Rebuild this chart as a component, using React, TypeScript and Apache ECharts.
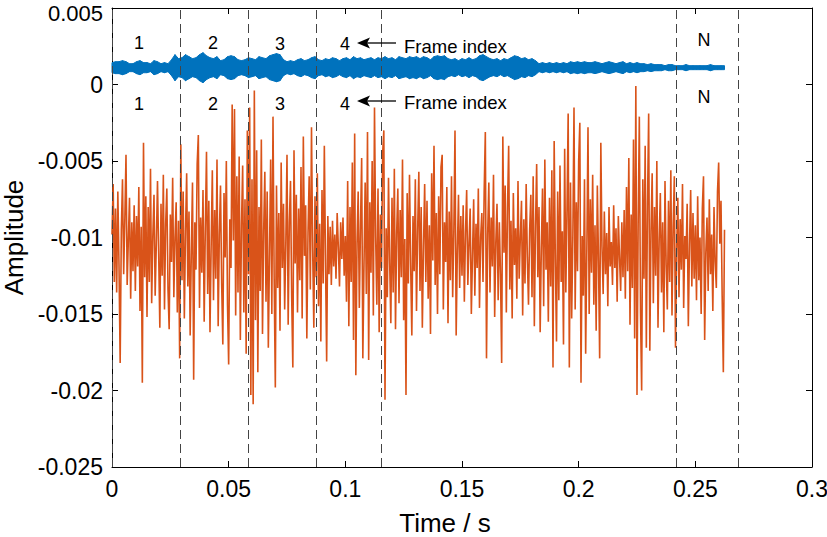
import React, { useEffect, useRef } from "react";
import * as echarts from "echarts";

// ---- data ----
// frame-by-frame speech signal, amplitude in units of 1e-3, sampled every ORANGE_DT seconds
const ORANGE_DT = 0.0005;
const orangeMilli: number[] = [
  -9.8, -6.5, -12.9, -8.1, -13.6, -7.0, -11.8, -18.2, -9.5, -6.2, -12.4, -8.8, -4.6, -13.1, -10.2, -7.4, -14.0, -9.0, -12.2, -7.9,
  -13.5, -8.6, -11.9, -6.7, -14.8, -9.3, -19.5, -3.8, -12.6, -7.3, -15.2, -8.0, -12.9, -5.5, -14.3, -9.9, -7.2, -13.8, -10.4, -6.3,
  -11.0, -15.9, -7.8, -12.5, -5.9, -14.7, -9.1, -6.8, -13.4, -16.0, -8.5, -11.6, -6.1, -13.9, -10.0, -7.7, -14.9, -8.9, -17.9, -3.9,
  -12.8, -7.0, -15.3, -9.6, -5.8, -13.2, -8.3, -16.4, -10.9, -6.4, -19.3, -9.0, -12.1, -5.2, -3.3, -14.6, -8.7, -12.3, -6.9, -15.5,
  -9.4, -4.4, -13.7, -7.6, -16.2, -10.5, -5.6, -14.1, -8.2, -12.7, -4.9, -15.8, -9.8, -6.6, -13.0, -17.0, -7.1, -11.3, -5.0, -14.4,
  -18.3, -8.8, -12.0, -1.3, -10.2, -1.6, -15.1, -6.0, -13.6, -4.7, -16.7, -9.2, -5.3, -14.9, -7.5, -17.6, -3.0, -12.4, -1.5, -20.3,
  -6.2, -20.9, -0.4, -15.4, -4.3, -18.8, -8.0, -13.5, -3.6, -16.3, -9.6, -5.7, -14.2, -7.0, -17.2, -11.1, -4.9, -15.0, -2.1, -12.7,
  -19.8, -6.6, -13.3, -8.4, -16.1, -5.1, -12.0, -7.8, -14.7, -10.3, -4.6, -15.7, -9.0, -6.3, -13.8, -18.5, -4.3, -11.7, -7.2, -14.9,
  -8.1, -12.8, -5.4, -15.3, -3.4, -11.2, -7.9, -16.6, -9.7, -6.0, -13.4, -2.8, -10.8, -15.9, -7.3, -12.6, -5.8, -14.5, -9.1, -16.8,
  -6.9, -13.0, -4.0, -11.5, -18.1, -8.6, -12.4, -9.3, -13.1, -8.9, -11.9, -9.8, -12.7, -8.4, -10.6, -13.2, -9.0, -11.4, -8.7, -12.5,
  -9.9, -14.2, -6.3, -15.8, -8.0, -12.9, -5.1, -16.7, -3.2, -19.0, -10.4, -7.0, -14.6, -9.2, -4.8, -17.9, -11.8, -6.4, -13.7, -3.1,
  -18.0, -7.7, -12.3, -5.0, -15.1, -1.5, -10.0, -14.4, -6.8, -16.2, -8.5, -12.0, -4.5, -3.0, -20.6, -9.4, -13.9, -6.1, -11.6, -15.6,
  -7.4, -13.6, -5.5, -16.0, -9.7, -6.8, -14.3, -8.2, -12.6, -4.9, -15.4, -10.1, -20.3, -7.1, -13.0, -5.9, -11.8, -16.4, -8.6, -12.2,
  -6.2, -14.8, -9.5, -5.7, -13.5, -8.0, -15.9, -10.6, -6.5, -12.9, -7.6, -14.0, -9.2, -16.3, -5.8, -11.5, -4.0, -13.1, -8.4, -15.0,
  -7.3, -12.4, -5.4, -4.6, -14.7, -9.0, -11.6, -6.7, -15.6, -8.3, -12.8, -6.0, -13.9, -9.6, -3.0, -16.4, -10.9, -7.2, -13.3, -8.6,
  -12.5, -7.9, -14.2, -9.7, -6.9, -13.1, -10.4, -8.1, -15.0, -11.2, -7.5, -13.8, -9.1, -12.0, -6.8, -14.6, -10.0, -8.4, -12.9, -7.0,
  -3.1, -17.9, -9.8, -6.4, -13.6, -8.7, -11.9, -5.9, -15.2, -10.3, -7.8, -14.1, -9.0, -12.4, -18.2, -3.4, -11.0, -6.6, -14.9, -8.1,
  -4.0, -13.4, -8.9, -15.3, -7.1, -11.8, -9.4, -14.0, -6.3, -12.7, -10.0, -7.6, -15.1, -8.8, -13.0, -6.5, -11.3, -14.4, -9.5, -7.2,
  -13.9, -6.0, -15.8, -9.3, -5.2, -12.6, -8.0, -16.2, -10.7, -6.8, -14.5, -4.9, -12.1, -9.0, -15.5, -7.4, -13.2, -5.6, -18.5, -3.7,
  -11.4, -16.8, -7.0, -14.1, -5.3, -12.9, -9.6, -17.0, -4.2, -13.6, -8.2, -1.9, -18.5, -6.4, -15.3, -10.0, -1.5, -14.7, -7.7, -12.2,
  -5.0, -2.5, -19.5, -9.9, -13.8, -6.2, -17.6, -10.8, -2.8, -15.0, -7.5, -12.3, -5.9, -14.4, -9.2, -16.1, -6.6, -11.5, -17.9, -3.8,
  -10.6, -13.7, -8.3, -12.4, -9.7, -14.5, -8.0, -11.9, -10.3, -13.1, -7.9, -12.0, -9.4, -14.2, -8.6, -11.3, -13.5, -9.0, -12.6, -8.2,
  -14.0, -6.7, -12.2, -4.8, -15.7, -8.5, -13.3, -3.6, -16.6, -0.1, -20.3, -9.1, -2.1, -14.9, -20.0, -6.2, -12.7, -4.0, -17.2, -7.8,
  -1.9, -17.4, -9.6, -5.8, -14.3, -8.0, -12.5, -5.0, -15.9, -10.2, -7.1, -13.6, -9.0, -16.2, -6.3, -11.8, -14.7, -7.6, -12.9, -5.6,
  -15.1, -9.3, -6.0, -17.2, -10.8, -7.4, -13.9, -8.8, -12.1, -6.5, -14.6, -9.9, -11.4, -7.8, -15.8, -10.5, -6.9, -13.2, -8.4, -12.7,
  -9.2, -14.1, -7.3, -12.8, -10.0, -15.0, -8.1, -6.0, -16.7, -11.0, -8.7, -13.5, -7.5, -12.4, -9.8, -14.8, -8.0, -11.6, -13.3, -7.0,
  -5.1, -10.4, -7.6, -13.8, -18.8, -9.5,
];

// upper waveform: centre level and half-width of its envelope (units of 1e-3), every BLUE_DT seconds
const BLUE_DT = 0.0015;
const blueCenter = 0.0011;
const blueHalfMilli: number[] = [
  0.33, 0.39, 0.39, 0.46, 0.39, 0.26, 0.26, 0.39, 0.46, 0.33, 0.33, 0.26, 0.46, 0.39, 0.26, 0.33, 0.26, 0.52, 0.85, 0.59,
  0.65, 0.85, 0.72, 0.59, 0.65, 0.85, 0.98, 0.78, 0.65, 0.59, 0.72, 0.46, 0.52, 0.72, 0.78, 0.72, 0.52, 0.46, 0.52, 0.65,
  0.59, 0.52, 0.72, 0.65, 0.59, 0.78, 0.85, 0.92, 0.85, 0.52, 0.39, 0.46, 0.39, 0.52, 0.59, 0.46, 0.52, 0.65, 0.72, 0.52,
  0.46, 0.59, 0.52, 0.65, 0.59, 0.46, 0.59, 0.65, 0.52, 0.72, 0.59, 0.65, 0.52, 0.59, 0.65, 0.52, 0.65, 0.59, 0.72, 0.59,
  0.65, 0.52, 0.72, 0.65, 0.59, 0.72, 0.65, 0.72, 0.59, 0.72, 0.65, 0.52, 0.72, 0.78, 0.72, 0.78, 0.59, 0.52, 0.59, 0.46,
  0.59, 0.52, 0.65, 0.52, 0.59, 0.78, 0.85, 0.72, 0.59, 0.52, 0.59, 0.46, 0.59, 0.52, 0.65, 0.78, 0.72, 0.59, 0.65, 0.52,
  0.59, 0.46, 0.26, 0.33, 0.26, 0.33, 0.26, 0.33, 0.26, 0.33, 0.26, 0.39, 0.33, 0.39, 0.33, 0.39, 0.33, 0.33, 0.39, 0.33,
  0.26, 0.33, 0.39, 0.33, 0.26, 0.33, 0.39, 0.26, 0.33, 0.26, 0.33, 0.26, 0.26, 0.20, 0.26, 0.20, 0.20, 0.20, 0.13, 0.20,
  0.20, 0.13, 0.13, 0.13, 0.20, 0.13, 0.13, 0.13, 0.13, 0.13, 0.13, 0.20, 0.13, 0.13, 0.13, 0.13,
];

// frame boundaries (s)
const frameBounds: number[] = [0, 0.0292, 0.0584, 0.0874, 0.1154, 0.2417, 0.2684];
const frameLabels: string[] = ["1", "2", "3", "4", "N"];
const annotationText = "Frame index";

const X_MIN = 0, X_MAX = 0.3, X_STEP = 0.05;
const Y_MIN = -0.025, Y_MAX = 0.005, Y_STEP = 0.005;

const BLUE = "#0072BD";
const ORANGE = "#D95319";
const FONT = "Liberation Sans, Arial, Helvetica, sans-serif";

const fmt = (v: number) => (Math.abs(v) < 1e-12 ? "0" : String(parseFloat(v.toFixed(4))));

export default function App() {
  const ref = useRef<HTMLDivElement>(null);
  useEffect(() => {
    if (!ref.current) return;
    const chart = echarts.init(ref.current, undefined, { renderer: "svg" });

    const orangeData = orangeMilli.map((v, i) => [i * ORANGE_DT, v / 1000]);
    const blueData = blueHalfMilli.map((h, i) => [i * BLUE_DT, blueCenter - h / 1000, blueCenter + h / 1000]);

    const labelPos = [
      { t: frameLabels[0], x: 139, y1: 43, y2: 104 },
      { t: frameLabels[1], x: 213, y1: 43, y2: 104 },
      { t: frameLabels[2], x: 280, y1: 44, y2: 104 },
      { t: frameLabels[3], x: 345, y1: 44, y2: 104 },
      { t: frameLabels[4], x: 704, y1: 40, y2: 97 },
    ];
    const textEls: any[] = [];
    labelPos.forEach((p) => {
      [p.y1, p.y2].forEach((yy) =>
        textEls.push({
          type: "text",
          x: p.x,
          y: yy,
          z: 100,
          style: { text: p.t, font: `18px ${FONT}`, fill: "#000", align: "center", verticalAlign: "middle" },
        })
      );
    });
    [
      { y: 43, ty: 46 },
      { y: 101, ty: 102 },
    ].forEach((a) => {
      textEls.push({
        type: "line",
        z: 100,
        shape: { x1: 366, y1: a.y, x2: 396, y2: a.y },
        style: { stroke: "#000", lineWidth: 1.3 },
      });
      textEls.push({
        type: "polygon",
        z: 100,
        shape: { points: [[357, a.y], [370, a.y - 5.5], [367, a.y], [370, a.y + 5.5]] },
        style: { fill: "#000" },
      });
      textEls.push({
        type: "text",
        x: 404,
        y: a.ty,
        z: 100,
        style: { text: annotationText, font: `18.5px ${FONT}`, fill: "#000", align: "left", verticalAlign: "middle" },
      });
    });

    const axisCommon = {
      type: "value" as const,
      axisLine: { show: true, onZero: false, lineStyle: { color: "#000", width: 1 } },
      axisTick: { show: true, inside: true, length: 6, lineStyle: { color: "#000", width: 1 } },
      splitLine: { show: false },
    };

    const yFmt = (v: number) => (Math.abs(v - Y_MAX) < 1e-12 ? `{top|${fmt(v)}}` : fmt(v));

    chart.setOption({
      animation: false,
      backgroundColor: "#fff",
      grid: { left: 112, right: 15, top: 8, bottom: 70, containLabel: false, outerBoundsMode: "none" },
      xAxis: [
        {
          ...axisCommon,
          min: X_MIN,
          max: X_MAX,
          interval: X_STEP,
          position: "bottom",
          axisLabel: { color: "#000", fontSize: 23, lineHeight: 17, fontFamily: FONT, margin: 13, formatter: fmt },
          name: "Time / s",
          nameLocation: "middle",
          nameGap: 43,
          nameTextStyle: { color: "#000", fontSize: 26, fontFamily: FONT, padding: [0, 34, 0, 0] },
        },
        {
          ...axisCommon,
          min: X_MIN,
          max: X_MAX,
          interval: X_STEP,
          position: "top",
          axisLabel: { show: false },
        },
      ],
      yAxis: [
        {
          ...axisCommon,
          min: Y_MIN,
          max: Y_MAX,
          interval: Y_STEP,
          position: "left",
          axisLabel: {
            color: "#000",
            fontSize: 23,
            lineHeight: 17,
            fontFamily: FONT,
            margin: 9,
            formatter: yFmt,
            rich: {
              top: { color: "#000", fontSize: 22, lineHeight: 17, fontFamily: FONT, padding: [10, 0, 0, 0] },
            },
          },
          name: "Amplitude",
          nameLocation: "middle",
          nameGap: 82,
          nameTextStyle: { color: "#000", fontSize: 26, lineHeight: 24, fontFamily: FONT },
        },
        {
          ...axisCommon,
          min: Y_MIN,
          max: Y_MAX,
          interval: Y_STEP,
          position: "right",
          axisLabel: { show: false },
        },
      ],
      series: [
        {
          type: "line",
          name: "frames",
          data: orangeData,
          showSymbol: false,
          symbol: "none",
          lineStyle: { color: ORANGE, width: 1.6 },
          itemStyle: { color: ORANGE },
          z: 2,
          silent: true,
          markLine: {
            silent: true,
            precision: 5,
            symbol: ["none", "none"],
            label: { show: false },
            lineStyle: { color: "#444", width: 1, type: [9, 5] },
            data: frameBounds.map((x) => ({ xAxis: x })),
          },
        },
        {
          type: "custom",
          name: "upper",
          data: blueData,
          encode: { x: 0, y: [1, 2] },
          z: 3,
          silent: true,
          renderItem: (params: any, api: any) => {
            const i = params.dataIndex;
            if (i >= blueData.length - 1) return null;
            const cur = blueData[i];
            const nxt = blueData[i + 1];
            const pts = [
              api.coord([cur[0], cur[2]]),
              api.coord([nxt[0], nxt[2]]),
              api.coord([nxt[0], nxt[1]]),
              api.coord([cur[0], cur[1]]),
            ];
            return {
              type: "polygon",
              shape: { points: pts },
              style: { fill: BLUE, stroke: BLUE, lineWidth: 1 },
            };
          },
        },
      ],
      graphic: textEls,
    });
    return () => chart.dispose();
  }, []);
  return (
    <div
      ref={ref}
      style={{ position: "fixed", left: 0, top: 0, width: 827, height: 537, background: "#fff" }}
    />
  );
}
